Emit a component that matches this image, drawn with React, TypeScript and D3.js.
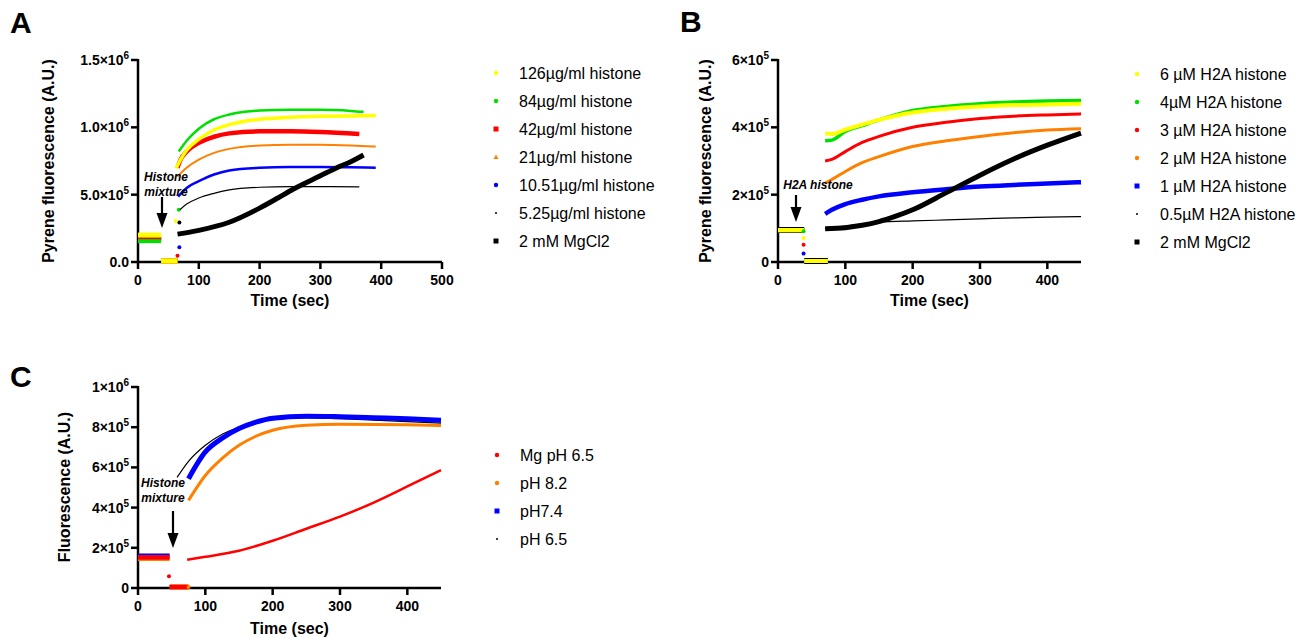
import * as d3 from "d3";

type Pt = [number, number];

// ---------- Panel A : histone mixture ----------
const legendA = [
  "126µg/ml histone",
  "84µg/ml histone",
  "42µg/ml histone",
  "21µg/ml histone",
  "10.51µg/ml histone",
  "5.25µg/ml histone",
  "2 mM MgCl2",
];
const baseA = [2.0e5, 1.55e5, 1.75e5, 1.7e5, 1.7e5, 1.7e5, 1.72e5];
const dropA: Pt[][] = [[[62, 3.05e5]], [[67, 3.88e5]], [[65, 0.47e5]], [], [[68, 1.1e5]], [[68, 2.94e5]], []];
const a126: Pt[] = [[63, 6.97e5], [70, 7.6e5], [80, 8.3e5], [100, 9.1e5], [125, 9.8e5], [150, 10.2e5], [175, 10.45e5], [200, 10.6e5], [250, 10.75e5], [300, 10.82e5], [350, 10.85e5], [391, 10.87e5]];
const a84: Pt[] = [[67, 8.2e5], [80, 9.0e5], [100, 9.9e5], [125, 10.6e5], [150, 10.95e5], [175, 11.15e5], [200, 11.25e5], [250, 11.3e5], [300, 11.3e5], [350, 11.22e5], [371, 11.15e5]];
const a42: Pt[] = [[65, 7.0e5], [70, 7.6e5], [80, 8.2e5], [100, 8.85e5], [125, 9.3e5], [150, 9.55e5], [200, 9.7e5], [250, 9.7e5], [300, 9.65e5], [364, 9.5e5]];
const a21: Pt[] = [[65, 6.35e5], [80, 7.0e5], [100, 7.6e5], [125, 8.1e5], [150, 8.4e5], [200, 8.65e5], [250, 8.7e5], [300, 8.7e5], [350, 8.65e5], [391, 8.57e5]];
const a10: Pt[] = [[66, 4.86e5], [80, 5.5e5], [100, 6.0e5], [125, 6.5e5], [150, 6.8e5], [200, 7.0e5], [250, 7.05e5], [300, 7.05e5], [350, 7.03e5], [391, 7.0e5]];
const a5: Pt[] = [[69, 3.88e5], [80, 4.3e5], [100, 4.75e5], [125, 5.1e5], [150, 5.35e5], [200, 5.55e5], [250, 5.6e5], [300, 5.6e5], [364, 5.58e5]];
const aMg: Pt[] = [[65, 2.07e5], [100, 2.35e5], [150, 2.95e5], [200, 4.0e5], [230, 4.75e5], [255, 5.4e5], [300, 6.4e5], [327, 7.0e5], [350, 7.45e5], [371, 7.95e5]];

// ---------- Panel B : H2A histone ----------
const legendB = [
  "6 µM H2A histone",
  "4µM H2A histone",
  "3 µM H2A histone",
  "2 µM H2A histone",
  "1 µM H2A histone",
  "0.5µM H2A histone",
  "2 mM MgCl2",
];
const baseB = [0.95e5, 0.94e5, 0.94e5, 0.94e5, 0.94e5, 0.94e5, 0.95e5];
const dropB: Pt[][] = [[[38, 0.71e5]], [[38, 0.91e5]], [[38, 0.51e5]], [], [[38, 0.25e5]], [], []];
const b6: Pt[] = [[70, 3.82e5], [80, 3.8e5], [100, 3.93e5], [125, 4.08e5], [150, 4.22e5], [200, 4.44e5], [250, 4.55e5], [300, 4.62e5], [350, 4.66e5], [400, 4.68e5], [450, 4.7e5]];
const b4: Pt[] = [[70, 3.6e5], [80, 3.62e5], [100, 3.88e5], [125, 4.05e5], [150, 4.22e5], [200, 4.5e5], [250, 4.62e5], [300, 4.7e5], [350, 4.75e5], [400, 4.78e5], [450, 4.8e5]];
const b3: Pt[] = [[70, 3.0e5], [80, 3.05e5], [100, 3.28e5], [125, 3.55e5], [150, 3.73e5], [200, 4.0e5], [250, 4.15e5], [300, 4.26e5], [350, 4.33e5], [400, 4.37e5], [450, 4.4e5]];
const b2: Pt[] = [[70, 2.34e5], [80, 2.45e5], [100, 2.69e5], [125, 2.95e5], [150, 3.13e5], [200, 3.43e5], [250, 3.6e5], [300, 3.73e5], [350, 3.84e5], [400, 3.92e5], [450, 3.96e5]];
const b1: Pt[] = [[70, 1.43e5], [80, 1.55e5], [100, 1.72e5], [125, 1.85e5], [150, 1.95e5], [200, 2.07e5], [250, 2.16e5], [300, 2.24e5], [350, 2.29e5], [400, 2.33e5], [450, 2.37e5]];
const b05: Pt[] = [[70, 1.0e5], [100, 1.07e5], [150, 1.18e5], [200, 1.22e5], [250, 1.25e5], [300, 1.28e5], [350, 1.31e5], [400, 1.33e5], [450, 1.35e5]];
const bMg: Pt[] = [[70, 0.99e5], [100, 1.02e5], [125, 1.09e5], [150, 1.2e5], [175, 1.36e5], [200, 1.55e5], [250, 2.06e5], [300, 2.58e5], [350, 3.06e5], [400, 3.47e5], [450, 3.83e5]];

// ---------- Panel C : pH ----------
const legendC = ["Mg pH 6.5", "pH 8.2", "pH7.4", "pH 6.5"];
const baseC = [1.52e5, 1.48e5, 1.63e5, 1.55e5];
const dropC: Pt[][] = [[[46, 0.58e5]], [[75, 0.05e5]], [], []];
const cMg: Pt[] = [[73, 1.41e5], [100, 1.55e5], [150, 1.85e5], [200, 2.35e5], [250, 2.95e5], [300, 3.55e5], [350, 4.25e5], [400, 5.05e5], [450, 5.87e5]];
const c82: Pt[] = [[75, 4.36e5], [100, 5.6e5], [125, 6.45e5], [150, 7.1e5], [175, 7.55e5], [200, 7.85e5], [250, 8.1e5], [300, 8.15e5], [350, 8.14e5], [400, 8.12e5], [450, 8.08e5]];
const c74: Pt[] = [[75, 5.44e5], [100, 6.77e5], [125, 7.45e5], [150, 7.93e5], [175, 8.25e5], [200, 8.45e5], [250, 8.55e5], [300, 8.52e5], [350, 8.47e5], [400, 8.42e5], [450, 8.35e5]];
const c65: Pt[] = [[58, 5.5e5], [75, 6.3e5], [100, 7.1e5], [125, 7.65e5], [150, 8.0e5], [175, 8.25e5], [200, 8.38e5], [250, 8.48e5], [300, 8.42e5], [350, 8.35e5], [400, 8.28e5], [450, 8.2e5]];

// ticks
const xTicksA = [0, 100, 200, 300, 400, 500];
const xTicksBC = [0, 100, 200, 300, 400];
const yTicksA = [0, 5e5, 1e6, 1.5e6];
const yMantA = ["0.0", "5.0×10", "1.0×10", "1.5×10"];
const yExpA = ["", "5", "6", "6"];
const yTicksB = [0, 2e5, 4e5, 6e5];
const yMantB = ["0", "2×10", "4×10", "6×10"];
const yExpB = ["", "5", "5", "5"];
const yTicksC = [0, 2e5, 4e5, 6e5, 8e5, 1e6];
const yMantC = ["0", "2×10", "4×10", "6×10", "8×10", "1×10"];
const yExpC = ["", "5", "5", "5", "5", "6"];

const YELLOW = "#ffff00";
const GREEN = "#00e000";
const RED = "#ff0000";
const ORANGE = "#ff8000";
const BLUE = "#0000ff";
const BLACK = "#000000";

const FONT = "'Liberation Sans', Arial, Helvetica, sans-serif";

type Series = {
  name: string;
  color: string;
  width: number;
  band: number;
  marker: string;
  base: number;
  drops: Pt[];
  curve: Pt[];
};

type PanelCfg = {
  letter: string;
  letterPos: Pt;
  xRange: Pt;
  yRange: Pt;
  xMax: number;
  yMax: number;
  xTicks: number[];
  yTicks: number[];
  yMant: string[];
  yExp: string[];
  yTitle: string;
  yTitlePos: Pt;
  xTitleY: number;
  inj: Pt;
  series: Series[];
  curveOrder: number[];
  legendX: number;
  legendY: number;
  note: string[];
  notePos: Pt;
  arrow: [number, number, number];
};

const mk = (
  names: string[],
  colors: string[],
  widths: number[],
  bands: number[],
  markers: string[],
  base: number[],
  drops: Pt[][],
  curves: Pt[][]
): Series[] =>
  names.map((name, i) => ({
    name,
    color: colors[i],
    width: widths[i],
    band: bands[i],
    marker: markers[i],
    base: base[i],
    drops: drops[i],
    curve: curves[i],
  }));

const panels: PanelCfg[] = [
  {
    letter: "A",
    letterPos: [10, 33],
    xRange: [138, 442],
    yRange: [262, 60],
    xMax: 500,
    yMax: 1.5e6,
    xTicks: xTicksA,
    yTicks: yTicksA,
    yMant: yMantA,
    yExp: yExpA,
    yTitle: "Pyrene fluorescence (A.U.)",
    yTitlePos: [48, 161],
    xTitleY: 306,
    inj: [38, 65],
    series: mk(
      legendA,
      [YELLOW, GREEN, RED, ORANGE, BLUE, BLACK, BLACK],
      [3.5, 2.5, 4.5, 2, 2.5, 1.2, 5],
      [5, 4, 4, 6, 3, 1, 3],
      ["circle", "circle", "square", "triangle", "circle", "dot", "square"],
      baseA,
      dropA,
      [a126, a84, a42, a21, a10, a5, aMg]
    ),
    curveOrder: [5, 4, 3, 2, 1, 0, 6],
    legendX: 496,
    legendY: 73,
    note: ["Histone", "mixture"],
    notePos: [166, 181],
    arrow: [162, 197, 228],
  },
  {
    letter: "B",
    letterPos: [680, 32],
    xRange: [778, 1081],
    yRange: [262, 60],
    xMax: 450,
    yMax: 6e5,
    xTicks: xTicksBC,
    yTicks: yTicksB,
    yMant: yMantB,
    yExp: yExpB,
    yTitle: "Pyrene fluorescence (A.U.)",
    yTitlePos: [705, 161],
    xTitleY: 306,
    inj: [39, 74],
    series: mk(
      legendB,
      [YELLOW, GREEN, RED, ORANGE, BLUE, BLACK, BLACK],
      [4, 3.5, 3, 3, 4.5, 1.2, 5],
      [4, 4, 4, 4, 4, 1, 6],
      ["circle", "circle", "circle", "circle", "square", "dot", "square"],
      baseB,
      dropB,
      [b6, b4, b3, b2, b1, b05, bMg]
    ),
    curveOrder: [5, 4, 3, 2, 1, 0, 6],
    legendX: 1137,
    legendY: 74,
    note: ["H2A histone"],
    notePos: [818, 189],
    arrow: [796, 195, 222],
  },
  {
    letter: "C",
    letterPos: [10, 387],
    xRange: [138, 441],
    yRange: [588, 387],
    xMax: 450,
    yMax: 1e6,
    xTicks: xTicksBC,
    yTicks: yTicksC,
    yMant: yMantC,
    yExp: yExpC,
    yTitle: "Fluorescence (A.U.)",
    yTitlePos: [64, 487],
    xTitleY: 634,
    inj: [47, 75],
    series: mk(
      legendC,
      [RED, ORANGE, BLUE, BLACK],
      [2.5, 3, 5, 1.2],
      [4.5, 5.5, 3.5, 1],
      ["circle", "circle", "square", "dot"],
      baseC,
      dropC,
      [cMg, c82, c74, c65]
    ),
    curveOrder: [3, 2, 1, 0],
    legendX: 497,
    legendY: 455,
    note: ["Histone", "mixture"],
    notePos: [163, 487],
    arrow: [173, 511, 548],
  },
];

const Marker = ({ type, x, y, color }: { type: string; x: number; y: number; color: string }) => {
  if (type === "square") return <rect x={x - 2.5} y={y - 2.5} width={5} height={5} fill={color} />;
  if (type === "triangle") return <path d={`M${x},${y - 2.5}L${x + 2.5},${y + 2}L${x - 2.5},${y + 2}Z`} fill={color} />;
  if (type === "dot") return <circle cx={x} cy={y} r={1} fill={color} />;
  return <circle cx={x} cy={y} r={2.2} fill={color} />;
};

const Panel = ({ p }: { p: PanelCfg }) => {
  const x = d3.scaleLinear().domain([0, p.xMax]).range(p.xRange);
  const y = d3.scaleLinear().domain([0, p.yMax]).range(p.yRange);
  const line = d3
    .line<Pt>()
    .x((d) => x(d[0]))
    .y((d) => y(d[1]))
    .curve(d3.curveMonotoneX);
  const x0 = p.xRange[0];
  const y0 = p.yRange[0];
  const rev = p.series.map((_, i) => i).reverse();

  return (
    <g>
      <text x={p.letterPos[0]} y={p.letterPos[1]} fontSize={30} fontWeight="bold" fontFamily={FONT}>
        {p.letter}
      </text>

      {/* axes */}
      <g stroke="#000" strokeWidth={2.5}>
        <line x1={x0} x2={x0} y1={p.yRange[1] - 1} y2={y0 + 1} />
        <line x1={x0 - 1} x2={p.xRange[1]} y1={y0} y2={y0} />
        {p.xTicks.map((t) => (
          <line key={"xt" + t} x1={x(t)} x2={x(t)} y1={y0} y2={y0 + 7} />
        ))}
        {p.yTicks.map((t) => (
          <line key={"yt" + t} x1={x0 - 7} x2={x0} y1={y(t)} y2={y(t)} />
        ))}
      </g>
      <g fontFamily={FONT} fontWeight="bold" fontSize={14}>
        {p.xTicks.map((t) => (
          <text key={"xl" + t} x={x(t)} y={y0 + 23} textAnchor="middle">
            {t}
          </text>
        ))}
        {p.yTicks.map((t, i) => (
          <text key={"yl" + t} x={x0 - 9} y={y(t) + 5} textAnchor="end">
            {p.yMant[i]}
            {p.yExp[i] && (
              <tspan fontSize={10} dy={-6}>
                {p.yExp[i]}
              </tspan>
            )}
          </text>
        ))}
      </g>
      <text
        x={(p.xRange[0] + p.xRange[1]) / 2}
        y={p.xTitleY}
        textAnchor="middle"
        fontFamily={FONT}
        fontWeight="bold"
        fontSize={16}
      >
        Time (sec)
      </text>
      <text
        transform={`translate(${p.yTitlePos[0]},${p.yTitlePos[1]}) rotate(-90)`}
        textAnchor="middle"
        dy="0.35em"
        fontFamily={FONT}
        fontWeight="bold"
        fontSize={16}
      >
        {p.yTitle}
      </text>

      {/* pre-injection baseline and empty cuvette */}
      {rev.map((i) => {
        const s = p.series[i];
        return (
          <g key={"base" + i} stroke={s.color} strokeWidth={s.band}>
            <line x1={x(0)} x2={x(p.inj[0])} y1={y(s.base)} y2={y(s.base)} />
            <line x1={x(p.inj[0])} x2={x(p.inj[1])} y1={y(0) - 1} y2={y(0) - 1} />
          </g>
        );
      })}
      {rev.map((i) =>
        p.series[i].drops.map((d, k) => (
          <circle key={"drop" + i + k} cx={x(d[0])} cy={y(d[1])} r={2} fill={p.series[i].color} />
        ))
      )}

      {/* recovery curves */}
      {p.curveOrder.map((i) => {
        const s = p.series[i];
        return <path key={"c" + i} d={line(s.curve) || ""} fill="none" stroke={s.color} strokeWidth={s.width} />;
      })}

      {/* annotation */}
      <g fontFamily={FONT} fontWeight="bold" fontStyle="italic" fontSize={12} textAnchor="middle">
        {p.note.map((n, i) => (
          <text key={n} x={p.notePos[0]} y={p.notePos[1] + i * 15}>
            {n}
          </text>
        ))}
      </g>
      <line x1={p.arrow[0]} x2={p.arrow[0]} y1={p.arrow[1]} y2={p.arrow[2] - 12} stroke="#000" strokeWidth={2.2} />
      <path
        d={`M${p.arrow[0] - 5.5},${p.arrow[2] - 15}L${p.arrow[0] + 5.5},${p.arrow[2] - 15}L${p.arrow[0]},${p.arrow[2]}Z`}
        fill="#000"
      />

      {/* legend */}
      {p.series.map((s, i) => (
        <g key={"lg" + i}>
          <Marker type={s.marker} x={p.legendX} y={p.legendY + i * 28} color={s.color} />
          <text x={p.legendX + 23} y={p.legendY + i * 28 + 6} fontFamily={FONT} fontSize={16}>
            {s.name}
          </text>
        </g>
      ))}
    </g>
  );
};

export default function App() {
  return (
    <svg
      width={1315}
      height={638}
      style={{ position: "absolute", left: 0, top: 0, background: "#fff" }}
    >
      {panels.map((p) => (
        <Panel key={p.letter} p={p} />
      ))}
    </svg>
  );
}
